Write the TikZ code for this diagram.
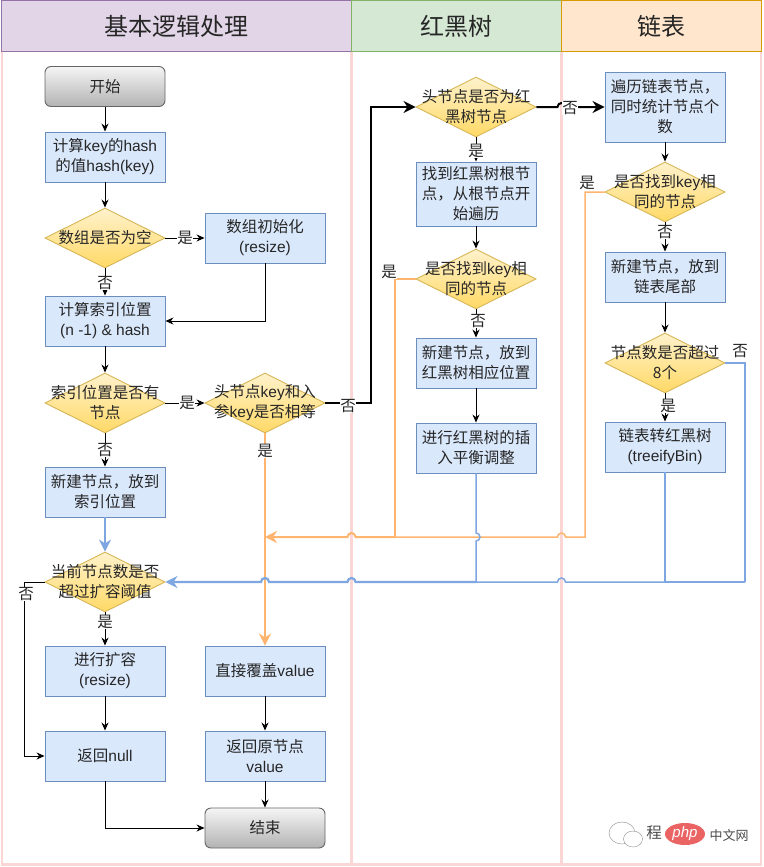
\documentclass[tikz,border=0pt]{standalone}
\usepackage{fontspec}
\setmainfont{Noto Sans CJK SC}
\newfontfamily\ltn{Liberation Sans}
\usetikzlibrary{shapes.geometric,arrows.meta,calc}
\definecolor{lanepink}{HTML}{FBD6D5}
\definecolor{boxfill}{HTML}{DAE8FC}
\definecolor{boxline}{HTML}{6C8EBF}
\definecolor{orng}{HTML}{FFB570}
\definecolor{blu}{HTML}{7EA6E0}
\definecolor{diaedge}{HTML}{D6B656}
\definecolor{diatop}{HTML}{FFF2CC}
\definecolor{diabot}{HTML}{FFD966}
\definecolor{purp}{HTML}{E1D5E7}
\definecolor{purpe}{HTML}{9673A6}
\definecolor{gren}{HTML}{D5E8D4}
\definecolor{grene}{HTML}{82B366}
\definecolor{oran}{HTML}{FFE6CC}
\definecolor{orane}{HTML}{D79B00}
\definecolor{pill}{HTML}{EB6464}
\newcommand{\K}[1]{{\ltn #1}}
% hops: arc over a named crossing point
\newcommand{\hopleft}[1]{-- ($(#1)+(4,0)$) arc[start angle=0,end angle=180,radius=4pt]}
\newcommand{\hopright}[1]{-- ($(#1)+(-4,0)$) arc[start angle=180,end angle=0,radius=4pt]}
\newcommand{\hopdown}[1]{-- ($(#1)+(0,-4)$) arc[start angle=90,end angle=-90,radius=4pt]}
\tikzset{
  txt/.style={font=\fontsize{15.5}{20}\selectfont,text=black!85,align=center,inner sep=0pt},
  proc/.style={txt,draw=boxline,fill=boxfill,minimum width=120pt,minimum height=50pt,line width=0.9pt},
  dia/.style={diamond,draw=diaedge,top color=diatop,bottom color=diabot,minimum width=120pt,minimum height=60pt,aspect=2,inner sep=0pt,line width=0.9pt},
  term/.style={txt,rounded corners=6pt,draw=black!60,top color=black!4,bottom color=black!30,minimum width=120pt,minimum height=40pt,line width=0.9pt},
  lane/.style={draw=lanepink,line width=2.2pt},
  head/.style={line width=1pt,font=\fontsize{24}{28}\selectfont,text=black!85,inner sep=0pt},
  lbl/.style={txt,fill=white,inner xsep=0.5pt,inner ysep=0pt},
  ar/.style={draw=black,line width=1pt,-{Stealth[length=8pt,width=7pt]}},
  arb/.style={draw=black,line width=2pt,-{Stealth[length=12pt,width=12pt]}},
  aro/.style={draw=orng,line width=2pt,-{Stealth[length=12pt,width=12pt]}},
  arbl/.style={draw=blu,line width=2.2pt,-{Stealth[length=12pt,width=12pt]}},
  lno/.style={draw=orng,line width=1.5pt},
  lnb/.style={draw=blu,line width=1.5pt},
}
\begin{document}
\begin{tikzpicture}[x=1pt,y=-1pt]
\useasboundingbox (0,0) rectangle (763,867);
\fill[white] (0,0) rectangle (763,867);
% lanes
\draw[lane] (2,52) -- (2,864.5) -- (761,864.5) -- (761,52);
\draw[lane] (351.5,52) -- (351.5,864.5);
\draw[lane] (561.5,52) -- (561.5,864.5);
\node[head,draw=purpe,fill=purp,minimum width=350pt,minimum height=51pt] (h1) at (176.5,26.5) {基本逻辑处理};
\node[head,draw=grene,fill=gren,minimum width=210pt,minimum height=51pt] (h2) at (456.5,26.5) {红黑树};
\node[head,draw=orane,fill=oran,minimum width=200pt,minimum height=51pt] (h3) at (661.5,26.5) {链表};
% column 1
\node[term] (start) at (105,86.5) {开始};
\node[proc] (hash) at (105,157) {计算\K{key}的\K{hash}\\的值\K{hash(key)}};
\node[dia,label={[txt]center:数组是否为空}] (empty) at (105,238) {};
\node[proc] (init) at (265,238) {数组初始化\\\K{(resize)}};
\node[proc] (idx) at (105,321) {计算索引位置\\\K{(n -1) \& hash}};
\node[dia,label={[txt]center:索引位置是否有\\节点}] (has) at (105,403) {};
\node[dia,label={[txt]center:头节点\K{key}和入\\参\K{key}是否相等}] (same) at (265,403) {};
\node[proc] (newa) at (105,492) {新建节点，放到\\索引位置};
\node[dia,label={[txt]center:当前节点数是否\\超过扩容阈值}] (over) at (105,582) {};
\node[proc] (resize) at (105,671) {进行扩容\\\K{(resize)}};
\node[proc] (cover) at (265,671) {直接覆盖\K{value}};
\node[proc] (retn) at (105,756) {返回\K{null}};
\node[proc] (reto) at (265,756) {返回原节点\\\K{value}};
\node[term] (end) at (265,828) {结束};
% column 2
\node[dia,label={[txt]center:头节点是否为红\\黑树节点}] (isrb) at (476,107) {};
\node[proc,minimum height=64pt] (root) at (476,194) {找到红黑树根节\\点，从根节点开\\始遍历};
\node[dia,label={[txt]center:是否找到\K{key}相\\同的节点}] (rbfind) at (476,279) {};
\node[proc] (rbnew) at (476,363) {新建节点，放到\\红黑树相应位置};
\node[proc] (rbfix) at (476,448) {进行红黑树的插\\入平衡调整};
% column 3
\node[proc,minimum height=70pt] (walk) at (665,107) {遍历链表节点，\\同时统计节点个\\数};
\node[dia,label={[txt]center:是否找到\K{key}相\\同的节点}] (lfind) at (665,192) {};
\node[proc] (lnew) at (665,277) {新建节点，放到\\链表尾部};
\node[dia,label={[txt]center:节点数是否超过\\8个}] (cnt) at (665,363) {};
\node[proc] (tree) at (665,447) {链表转红黑树\\\K{(treeifyBin)}};
% crossing points and waypoints
\coordinate (oA) at (585,537);
\coordinate (oB) at (395,537);
\coordinate (oC) at (265,537);
\coordinate (oj1) at (561.5,537);
\coordinate (oj2) at (351.5,537);
\coordinate (oj3) at (476,537);
\coordinate (bj1) at (561.5,582);
\coordinate (bj2) at (351.5,582);
\coordinate (bj3) at (265,582);
\coordinate (bM) at (476,582);
\coordinate (kj) at (561.5,107);
\coordinate (bR) at (745,582);
% plain connectors
\draw[ar] (start) -- (hash);
\draw[ar] (hash) -- (empty);
\draw[ar] (empty) -- (idx);
\draw[ar] (empty) -- (init);
\draw[ar] (init.south) |- (idx.east);
\draw[ar] (idx) -- (has);
\draw[ar] (has) -- (same);
\draw[ar] (has) -- (newa);
\draw[ar] (over) -- (resize);
\draw[ar] (resize) -- (retn);
\draw[ar] (over.west) -- ++(-20,0) |- (retn.west);
\draw[ar] (retn.south) |- (end.west);
\draw[ar] (cover) -- (reto);
\draw[ar] (reto) -- (end);
\draw[ar] (isrb) -- (root);
\draw[ar] (root) -- (rbfind);
\draw[ar] (rbfind) -- (rbnew);
\draw[ar] (rbnew) -- (rbfix);
\draw[ar] (walk) -- (lfind);
\draw[ar] (lfind) -- (lnew);
\draw[ar] (lnew) -- (cnt);
\draw[ar] (cnt) -- (tree);
% heavy black
\draw[arb] (same.east) -- (371,403) -- (371,107) -- (isrb.west);
\draw[arb] (isrb.east) \hopright{kj} -- (walk.west);
% orange
\draw[aro] (same.south) -- (cover.north);
\draw[lno] (rbfind.west) -| (oB);
\draw[lno] (lfind.west) -| (oA) \hopleft{oj1} -- (oB);
\draw[aro] (oB) \hopleft{oj2} -- (oC);
% blue
\draw[arbl] (newa) -- (over);
\draw[lnb] (tree.south) |- (bR);
\draw[lnb] (cnt.east) -| (bR);
\draw[lnb] (rbfix.south) \hopdown{oj3} -- (bM);
\draw[lnb] (bR) \hopleft{bj1} -- (bM);
\draw[arbl] (bM) \hopleft{bj2} \hopleft{bj3} -- (over.east);
% labels
\node[lbl] (l1) at (105,283) {否};
\node[lbl] (l2) at (185,238) {是};
\node[lbl] (l3) at (187,403) {是};
\node[lbl] (l4) at (105,450) {否};
\node[lbl] (l5) at (265,451) {是};
\node[lbl] (l6) at (348,406) {否};
\node[lbl] (l7) at (105,622) {是};
\node[lbl] (l8) at (26,594) {否};
\node[lbl] (l9) at (476,151) {是};
\node[lbl] (l10) at (570,108) {否};
\node[lbl] (l11) at (478,321) {否};
\node[lbl] (l12) at (389,272) {是};
\node[lbl] (l13) at (587,183) {是};
\node[lbl] (l14) at (665,232) {否};
\node[lbl] (l15) at (740,351) {否};
\node[lbl] (l16) at (668,406) {是};
% watermark
\begin{scope}[draw=black!45,line width=0.4pt,fill=white]
\draw (622,833) ellipse [x radius=13pt,y radius=11pt];
\draw[fill=white] (633,839) ellipse [x radius=9.5pt,y radius=8pt];
\end{scope}
\node[font=\fontsize{15.5}{18}\selectfont,text=black!70,inner sep=0pt] (wm1) at (654,833) {程};
\node[fill=pill,ellipse,minimum width=40pt,minimum height=22pt,inner sep=0pt,text=white,font=\fontsize{15}{18}\selectfont\ltn\itshape] (wm2) at (685,834) {php};
\node[font=\fontsize{13}{18}\selectfont,text=black!70,inner sep=0pt] (wm3) at (729,835) {中文网};
\end{tikzpicture}
\end{document}
